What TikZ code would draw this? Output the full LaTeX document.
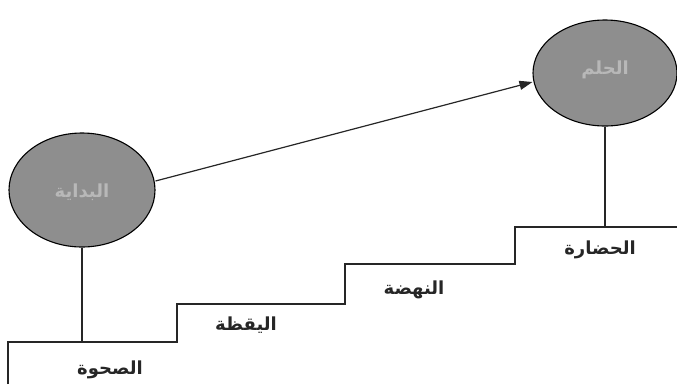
\documentclass[tikz,border=0pt]{standalone}
\usepackage{fontspec}
\usetikzlibrary{shapes.geometric,arrows.meta}
\TeXXeTstate=1
\newfontfamily\arabicfont[Script=Arabic]{DejaVu Sans}
\definecolor{ellfill}{HTML}{8E8E8E}
\definecolor{elltext}{HTML}{B8B8B8}
\tikzset{
  goal/.style={ellipse,draw=black,line width=1.1pt,fill=ellfill,inner sep=0pt},
  goaltext/.style={font=\arabicfont\bfseries\fontsize{18}{20}\selectfont,text=elltext},
  steplabel/.style={font=\arabicfont\bfseries\fontsize{18}{20}\selectfont,text=black!85},
  stairline/.style={line width=1.2pt,draw=black!85},
}
\begin{document}
\begin{tikzpicture}[x=1pt,y=-1pt]
\useasboundingbox (0,0) rectangle (677,384);
% ellipses
\node[goal,minimum width=146pt,minimum height=114pt] (start) at (82,190) {};
\node[goaltext] (starttext) at (82,192) {\beginR البداية\endR};
\node[goal,minimum width=144pt,minimum height=106pt] (dream) at (605,73) {};
\node[goaltext] (dreamtext) at (605,70) {\beginR الحلم\endR};
% stairs
\coordinate (s0) at (8,384);
\coordinate (s1) at (8,342);
\coordinate (s2) at (177,342);
\coordinate (s3) at (177,304);
\coordinate (s4) at (345,304);
\coordinate (s5) at (345,264);
\coordinate (s6) at (515,264);
\coordinate (s7) at (515,227);
\coordinate (s8) at (677,227);
\draw[stairline] (s0) -- (s1) -- (s2) -- (s3) -- (s4) -- (s5) -- (s6) -- (s7) -- (s8);
% connectors
\coordinate (startfoot) at (start.south |- s1);
\coordinate (dreamfoot) at (dream.south |- s7);
\draw[stairline] (start.south) -- (startfoot);
\draw[stairline] (dream.south) -- (dreamfoot);
\draw[line width=1.2pt,draw=black!85,-{Triangle[length=13pt,width=9pt]}] (start.east) ++(0,-9) coordinate (arrowstart) -- (dream.west |- 0,82) coordinate (arrowend);
% labels
\node[steplabel] (l1) at (110,370) {\beginR الصحوة\endR};
\node[steplabel] (l2) at (246,325) {\beginR اليقظة\endR};
\node[steplabel] (l3) at (414,290) {\beginR النهضة\endR};
\node[steplabel] (l4) at (600,250) {\beginR الحضارة\endR};
\end{tikzpicture}
\end{document}
